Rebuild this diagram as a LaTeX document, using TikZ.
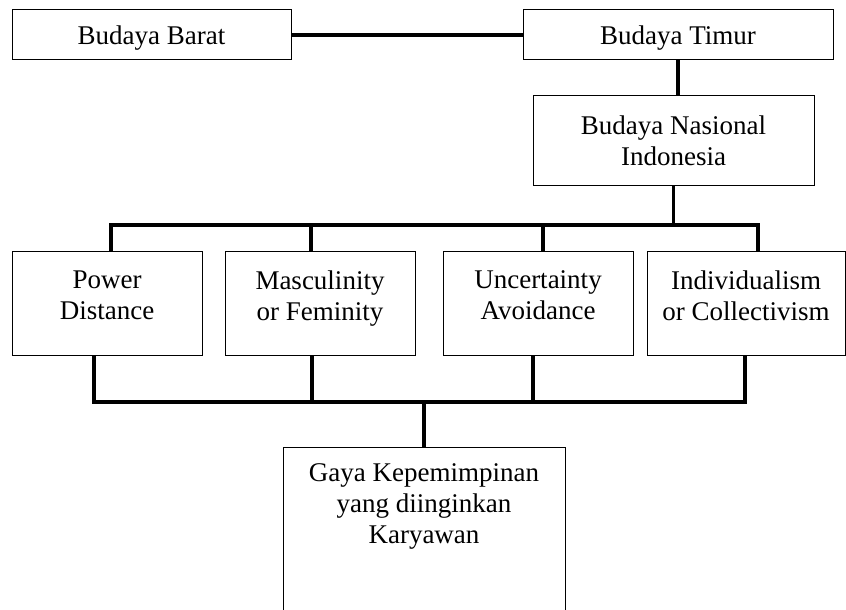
\documentclass[tikz,border=0pt]{standalone}
\usepackage{fontspec}
\setmainfont{Liberation Serif}
\usetikzlibrary{positioning}
\tikzset{box/.style={draw, line width=0.5pt, inner sep=0pt},
         lbl/.style={align=center, inner sep=0pt, font=\fontsize{13.5}{15.5}\selectfont},
         link/.style={line width=1.7pt}}

\begin{document}
\begin{tikzpicture}[x=0.5pt,y=-0.5pt]
    \clip (0,0) rectangle (846,610);

    % top row
    \node[box, lbl, text depth=0pt, minimum width=139.5pt, minimum height=25pt] (barat) at (151.5,35) {Budaya Barat};
    \node[box, lbl, text depth=0pt, minimum width=155pt, minimum height=25pt] (timur) at (678,35) {Budaya Timur};
    \node[box, lbl, minimum width=140.5pt, minimum height=44.5pt] (nasional) at (673.5,140.5) {Budaya Nasional\\Indonesia};

    % dimensions
    \node[box, minimum width=95pt, minimum height=52pt] (pd) at (107,303) {};
    \node[box, minimum width=95pt, minimum height=52pt] (mf) at (320,303) {};
    \node[box, minimum width=95pt, minimum height=52pt] (ua) at (538,303) {};
    \node[box, minimum width=99pt, minimum height=52pt] (ic) at (746,303) {};
    \node[lbl, anchor=north] (pd-txt) at ([yshift=-10pt]pd.north) {Power\\Distance};
    \node[lbl, anchor=north] (mf-txt) at ([yshift=-10pt]mf.north) {Masculinity\\or Feminity};
    \node[lbl, anchor=north] (ua-txt) at ([yshift=-10pt]ua.north) {Uncertainty\\Avoidance};
    \node[lbl, anchor=north] (ic-txt) at ([yshift=-10pt]ic.north) {Individualism\\or Collectivism};

    % result
    \node[box, minimum width=141pt, minimum height=83pt] (gaya) at (424,530) {};
    \node[lbl, anchor=north] (gaya-txt) at ([yshift=-8.5pt]gaya.north) {Gaya Kepemimpinan\\yang diinginkan\\Karyawan};

    % connectors
    \coordinate (top1) at (111,225);
    \coordinate (top2) at (311,225);
    \coordinate (top3) at (543,225);
    \coordinate (top4) at (758,225);
    \coordinate (bot1) at (94,402);
    \coordinate (bot2) at (312,402);
    \coordinate (bot3) at (533,402);
    \coordinate (bot4) at (745,402);

    \draw[link] (barat) -- (timur);
    \draw[link] (timur) -- (timur |- nasional.north);
    \draw[link] (nasional) -- (nasional |- top1);
    \draw[link] (top1 |- pd.north) -- (top1) -- (top4) -- (top4 |- ic.north);
    \draw[link] (top2) -- (top2 |- mf.north);
    \draw[link] (top3) -- (top3 |- ua.north);

    \draw[link] (bot1 |- pd.south) -- (bot1) -- (bot4) -- (bot4 |- ic.south);
    \draw[link] (bot2 |- mf.south) -- (bot2);
    \draw[link] (bot3 |- ua.south) -- (bot3);
    \draw[link] (gaya |- bot1) -- (gaya);
\end{tikzpicture}
\end{document}
